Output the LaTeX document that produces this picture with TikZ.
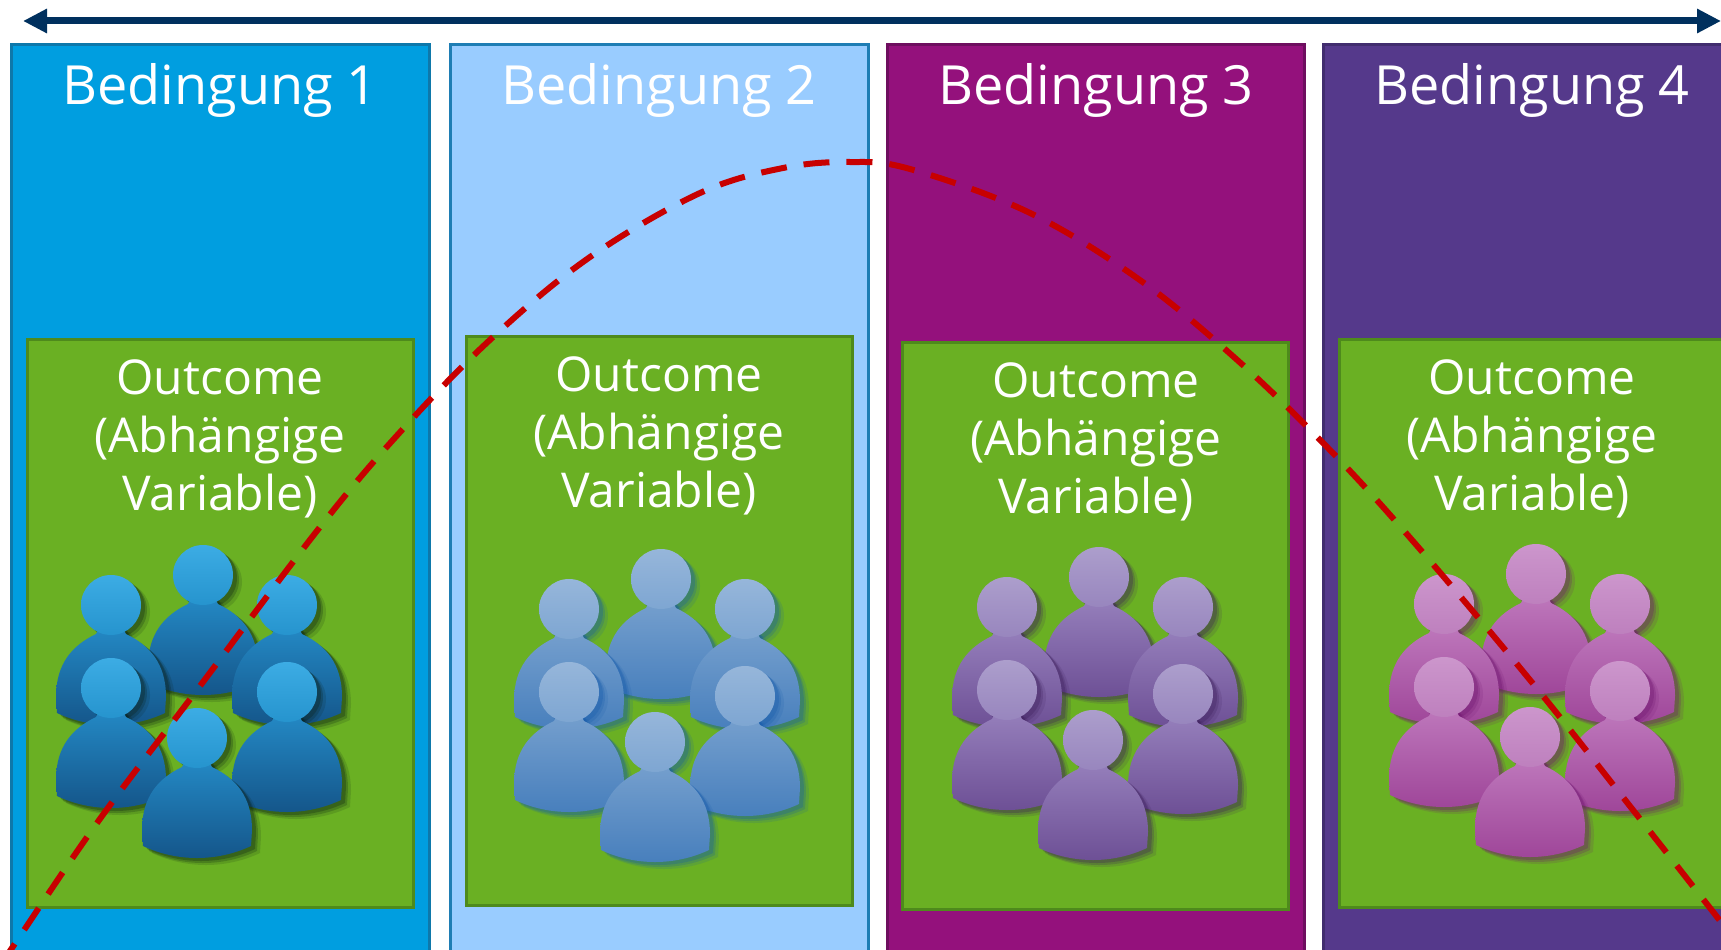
\documentclass[tikz,border=0pt]{standalone}
\usepackage{fontspec}
\setmainfont{Open Sans}
\usetikzlibrary{arrows.meta}
% column colours
\definecolor{cA}{RGB}{0,158,224}   \definecolor{cAb}{RGB}{14,120,170}
\definecolor{cB}{RGB}{153,204,255} \definecolor{cBb}{RGB}{30,125,180}
\definecolor{cC}{RGB}{148,17,124}  \definecolor{cCb}{RGB}{110,14,95}
\definecolor{cD}{RGB}{85,57,139}   \definecolor{cDb}{RGB}{65,45,110}
\definecolor{grn}{RGB}{106,176,35} \definecolor{grnb}{RGB}{78,138,28}
\definecolor{navy}{RGB}{0,48,94}
\definecolor{dashred}{RGB}{200,0,0}
% people palettes
\definecolor{pAHT}{RGB}{60,172,228}  \definecolor{pAHB}{RGB}{38,148,206}
\definecolor{pABT}{RGB}{36,138,198}  \definecolor{pABB}{RGB}{20,84,136}
\definecolor{pAS}{RGB}{10,30,20}
\definecolor{pBHT}{RGB}{150,182,218} \definecolor{pBHB}{RGB}{126,166,210}
\definecolor{pBBT}{RGB}{118,160,206} \definecolor{pBBB}{RGB}{70,126,188}
\definecolor{pBS}{RGB}{20,90,170}
\definecolor{pCHT}{RGB}{172,158,204} \definecolor{pCHB}{RGB}{152,134,190}
\definecolor{pCBT}{RGB}{150,128,188} \definecolor{pCBB}{RGB}{108,78,148}
\definecolor{pCS}{RGB}{60,30,90}
\definecolor{pDHT}{RGB}{204,150,204} \definecolor{pDHB}{RGB}{190,128,190}
\definecolor{pDBT}{RGB}{190,120,188} \definecolor{pDBB}{RGB}{158,68,152}
\definecolor{pDS}{RGB}{110,20,110}
\newcommand{\bodyshape}{(-10,20) -- (-15,29) .. controls (-38,40) and (-55,58) .. (-55,92) -- (-54,108) .. controls (-20,124) and (20,124) .. (54,108) -- (55,92) .. controls (55,58) and (38,40) .. (15,29) -- (10,20) -- cycle}
\newcommand{\personfig}[3]{%
  \begin{scope}[shift={(#1,#2)}]
    \foreach \o/\p/\op in {4/3/0.28,6/5/0.22,9/7/0.14}{%
      \fill[#3S, opacity=\op, shift={(\o,\p)}] \bodyshape;
      \fill[#3S, opacity=\op, shift={(\o,\p)}] (0,0) circle[radius=30];
    }
    \shade[top color=#3BT, bottom color=#3BB] \bodyshape;
    \shade[top color=#3HT, bottom color=#3HB] (0,0) circle[radius=30];
  \end{scope}}
\newcommand{\crowdfig}[3]{%
  \personfig{#1+4}{#2}{#3}
  \personfig{#1-88}{#2+30}{#3}
  \personfig{#1+88}{#2+30}{#3}
  \personfig{#1-88}{#2+113}{#3}
  \personfig{#1+88}{#2+117}{#3}
  \personfig{#1-2}{#2+163}{#3}}
\tikzset{
  colbox/.style={line width=3pt},
  outbox/.style={fill=grn, draw=grnb, line width=3pt},
  titletxt/.style={text=white, inner sep=0pt, anchor=base, font=\fontsize{54}{64}\selectfont},
  outtxt/.style={text=white, inner sep=0pt, anchor=north, align=center, font=\fontsize{48}{58}\selectfont},
  curve/.style={draw=dashred, line width=6pt, dash pattern=on 26pt off 17pt},
  axis/.style={draw=navy, line width=7pt, {Triangle[length=24pt,width=23pt]}-{Triangle[length=24pt,width=23pt]}}
}
\begin{document}
\begin{tikzpicture}[x=1pt,y=-1pt]
\useasboundingbox (0,0) rectangle (1721,950);
\clip (0,0) rectangle (1721,950);
\fill[white] (0,0) rectangle (1721,950);
% columns
\draw[colbox, fill=cA, draw=cAb] (11,45) rectangle (429,980);
\draw[colbox, fill=cB, draw=cBb] (450,45) rectangle (868,980);
\draw[colbox, fill=cC, draw=cCb] (887,45) rectangle (1304,980);
\draw[colbox, fill=cD, draw=cDb] (1323,45) rectangle (1741,980);
% titles
\node[titletxt] (t1) at (220,104) {Bedingung 1};
\node[titletxt] (t2) at (659,104) {Bedingung 2};
\node[titletxt] (t3) at (1096,104) {Bedingung 3};
\node[titletxt] (t4) at (1532,104) {Bedingung 4};
% outcome boxes
\draw[outbox] (27,339) rectangle (413,907);
\draw[outbox] (466,336) rectangle (852,905);
\draw[outbox] (902,342) rectangle (1288,909);
\draw[outbox] (1339,339) rectangle (1725,907);
\node[outtxt] (o1) at (220,359) {Outcome\\(Abhängige\\Variable)};
\node[outtxt] (o2) at (659,356) {Outcome\\(Abhängige\\Variable)};
\node[outtxt] (o3) at (1096,362) {Outcome\\(Abhängige\\Variable)};
\node[outtxt] (o4) at (1532,359) {Outcome\\(Abhängige\\Variable)};
% crowds
\crowdfig{199}{575}{pA}
\crowdfig{657}{579}{pB}
\crowdfig{1095}{577}{pC}
\crowdfig{1532}{574}{pD}
% dashed curve
\draw[curve] plot[smooth, tension=0.6] coordinates {(2,962) (12,948) (97,823) (197,690) (320,527) (402,430) (492,338) (590,257) (700,193) (783,168) (850,162) (910,169) (1028,212) (1137,278) (1235,358) (1328,448) (1412,540) (1530,680) (1633,810) (1721,922) (1730,934)};
% axis arrow
\coordinate (aL) at (23,21);
\coordinate (aR) at (1721,21);
\draw[axis] (aL) -- (aR);
\end{tikzpicture}
\end{document}
